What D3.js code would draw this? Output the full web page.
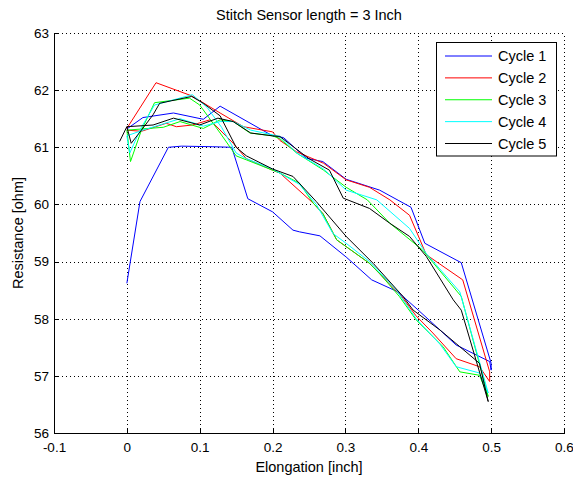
<!DOCTYPE html>
<html>
<head>
<meta charset="utf-8">
<script src="https://cdn.jsdelivr.net/npm/d3@7"></script>
<style>
  html, body { margin: 0; padding: 0; background: #fff; }
  svg { display: block; }
  text { font-family: "Liberation Sans", Arial, sans-serif; fill: #000; }
</style>
</head>
<body>
<svg id="chart" width="573" height="479"></svg>
<script>
// Resistance vs. elongation, one closed load/unload loop per cycle, as [elongation, resistance]
const cycle1 = [[0,58.62],[0.018,60.05],[0.057,61.0],[0.075,61.02],[0.118,61.01],[0.144,61.0],[0.166,60.1],[0.2,59.87],[0.228,59.55],[0.237,59.52],[0.265,59.45],[0.301,59.08],[0.336,58.68],[0.372,58.47],[0.4,58.15],[0.43,57.8],[0.452,57.54],[0.498,57.25],[0.5,57.1],[0.5,57.22],[0.459,58.98],[0.409,59.32],[0.39,59.95],[0.347,60.25],[0.301,60.44],[0.269,60.75],[0.246,60.81],[0.215,61.17],[0.2,61.2],[0.128,61.72],[0.105,61.49],[0.064,61.6],[0.022,61.52],[0,61.32]];
const cycle2 = [[0,61.33],[0.04,62.13],[0.089,61.9],[0.128,61.6],[0.16,61.36],[0.2,61.27],[0.21,61.12],[0.233,60.92],[0.27,60.72],[0.301,60.43],[0.333,60.3],[0.361,60.08],[0.388,59.81],[0.411,59.12],[0.461,58.68],[0.498,57.07],[0.498,56.9],[0.484,57.16],[0.452,57.3],[0.42,57.75],[0.397,58.05],[0.377,58.39],[0.333,58.97],[0.288,59.38],[0.269,59.84],[0.256,60.02],[0.21,60.55],[0.2,60.6],[0.164,60.8],[0.146,61.07],[0.114,61.48],[0.09,61.39],[0.068,61.36],[0.054,61.42],[0.02,61.28],[0,61.3]];
const cycle3 = [[0,61.3],[0.005,60.75],[0.02,61.3],[0.038,61.78],[0.086,61.86],[0.1,61.74],[0.128,61.25],[0.15,60.85],[0.164,60.78],[0.2,60.6],[0.21,60.55],[0.237,60.37],[0.256,60.02],[0.269,59.84],[0.288,59.38],[0.333,58.97],[0.347,58.79],[0.374,58.39],[0.397,57.98],[0.434,57.51],[0.457,57.07],[0.484,57.01],[0.496,56.64],[0.459,58.39],[0.406,59.2],[0.361,59.67],[0.33,60.08],[0.301,60.3],[0.27,60.6],[0.233,60.9],[0.21,61.15],[0.2,61.2],[0.169,61.25],[0.146,61.45],[0.128,61.48],[0.105,61.33],[0.073,61.45],[0.05,61.35],[0.02,61.32],[0,61.3]];
const cycle4 = [[0,61.2],[0.004,60.9],[0.02,61.35],[0.038,61.74],[0.09,61.92],[0.11,61.7],[0.13,61.35],[0.15,60.9],[0.164,60.8],[0.2,60.62],[0.237,60.35],[0.26,60.0],[0.283,59.49],[0.301,59.32],[0.333,59.0],[0.37,58.5],[0.397,58.0],[0.43,57.55],[0.452,57.16],[0.484,57.05],[0.496,56.7],[0.457,58.47],[0.411,59.14],[0.388,59.58],[0.343,60.08],[0.301,60.25],[0.27,60.62],[0.233,60.9],[0.21,61.19],[0.17,61.3],[0.146,61.45],[0.128,61.45],[0.105,61.37],[0.073,61.5],[0.022,61.3],[0,61.2]];
const cycle5 = [[-0.01,61.1],[0,61.36],[0.006,61.07],[0.02,61.3],[0.036,61.57],[0.045,61.77],[0.089,61.89],[0.105,61.77],[0.128,61.55],[0.15,61.0],[0.164,60.85],[0.2,60.62],[0.228,60.49],[0.26,60.05],[0.301,59.44],[0.338,58.97],[0.379,58.39],[0.393,58.15],[0.43,57.8],[0.457,57.51],[0.484,57.22],[0.496,56.55],[0.459,58.15],[0.448,58.33],[0.411,59.09],[0.388,59.44],[0.361,59.67],[0.333,59.93],[0.297,60.11],[0.278,60.6],[0.25,60.8],[0.21,61.19],[0.2,61.2],[0.17,61.25],[0.146,61.45],[0.125,61.51],[0.1,61.39],[0.064,61.51],[0.036,61.39],[0,61.36]];

const seriesNames = ["Cycle 1", "Cycle 2", "Cycle 3", "Cycle 4", "Cycle 5"];
const seriesColors = ["#0000ff", "#ff0000", "#00ff00", "#00ffff", "#000000"];
const xTicks = [-0.1, 0, 0.1, 0.2, 0.3, 0.4, 0.5, 0.6];
const xTickLabels = ["-0.1", "0", "0.1", "0.2", "0.3", "0.4", "0.5", "0.6"];
const yTicks = [56, 57, 58, 59, 60, 61, 62, 63];

const titleText = "Stitch Sensor length = 3 Inch";
const xLabelText = "Elongation [inch]";
const yLabelText = "Resistance [ohm]";

const series = [cycle1, cycle2, cycle3, cycle4, cycle5];

const svg = d3.select("#chart");
const plotLeft = 54, plotRight = 564, plotTop = 33, plotBottom = 433;

const x = d3.scaleLinear().domain([-0.1, 0.6]).range([plotLeft, plotRight]);
const y = d3.scaleLinear().domain([56, 63]).range([plotBottom, plotTop]);

svg.append("rect").attr("width", 573).attr("height", 479).attr("fill", "#fff");

// dotted grid, including the top and right edges of the box
const grid = svg.append("g").attr("stroke", "#000").attr("stroke-width", 1)
  .attr("stroke-dasharray", "1,3").attr("shape-rendering", "crispEdges");
grid.selectAll("line.gx").data(xTicks.filter(d => d > -0.1)).join("line").attr("class", "gx")
  .attr("x1", d => Math.round(x(d)) + 0.5).attr("x2", d => Math.round(x(d)) + 0.5)
  .attr("y1", plotBottom).attr("y2", plotTop);
grid.selectAll("line.gy").data(yTicks.filter(d => d > 56)).join("line").attr("class", "gy")
  .attr("y1", d => Math.round(y(d)) + 0.5).attr("y2", d => Math.round(y(d)) + 0.5)
  .attr("x1", plotLeft).attr("x2", plotRight);

// axes with inward ticks
const xAxis = d3.axisBottom(x).tickValues(xTicks).tickSizeInner(-5).tickSizeOuter(0)
  .tickPadding(10).tickFormat((d, i) => xTickLabels[i]);
const yAxis = d3.axisLeft(y).tickValues(yTicks).tickSizeInner(-5).tickSizeOuter(0)
  .tickPadding(10).tickFormat(d3.format("d"));

const gx = svg.append("g").attr("transform", `translate(0,${plotBottom})`).call(xAxis);
const gy = svg.append("g").attr("transform", `translate(${plotLeft},0)`).call(yAxis);
[gx, gy].forEach(g => {
  g.select(".domain").attr("stroke", "#000").attr("shape-rendering", "crispEdges");
  g.selectAll(".tick line").attr("stroke", "#000").attr("shape-rendering", "crispEdges");
  g.selectAll(".tick text").attr("font-size", 13.5).attr("font-family", "Liberation Sans, Arial, sans-serif").attr("fill", "#000");
});
gx.selectAll(".tick text").attr("dy", "0.71em").attr("y", 9);
gy.selectAll(".tick text").attr("x", -5);

// data lines
const line = d3.line().x(d => x(d[0])).y(d => y(d[1]));
svg.append("g").selectAll("path").data(series).join("path")
  .attr("d", line).attr("fill", "none")
  .attr("stroke", (d, i) => seriesColors[i]).attr("stroke-width", 1)
  .attr("stroke-linejoin", "round");

// title and axis labels
svg.append("text").attr("x", (plotLeft + plotRight) / 2).attr("y", 20).attr("text-anchor", "middle")
  .attr("font-size", 14.5).text(titleText);
svg.append("text").attr("x", (plotLeft + plotRight) / 2).attr("y", 472).attr("text-anchor", "middle")
  .attr("font-size", 14.5).text(xLabelText);
svg.append("text").attr("transform", `translate(23,${(plotTop + plotBottom) / 2}) rotate(-90)`)
  .attr("text-anchor", "middle").attr("font-size", 14.5).text(yLabelText);

// legend
const lg = svg.append("g");
lg.append("rect").attr("x", 436.5).attr("y", 42.5).attr("width", 120).attr("height", 113.5)
  .attr("fill", "#fff").attr("stroke", "#000").attr("stroke-width", 1);
const rowY = d3.scalePoint().domain(seriesNames).range([56, 143.5]);
const rows = lg.selectAll("g.row").data(seriesNames).join("g").attr("class", "row")
  .attr("transform", d => `translate(0,${rowY(d)})`);
rows.append("line").attr("x1", 445).attr("x2", 492).attr("y1", 0).attr("y2", 0)
  .attr("stroke", (d, i) => seriesColors[i]).attr("stroke-width", 1);
rows.append("text").attr("x", 498).attr("y", 0).attr("dy", "0.36em")
  .attr("font-size", 14.5).text(d => d);
</script>
</body>
</html>
